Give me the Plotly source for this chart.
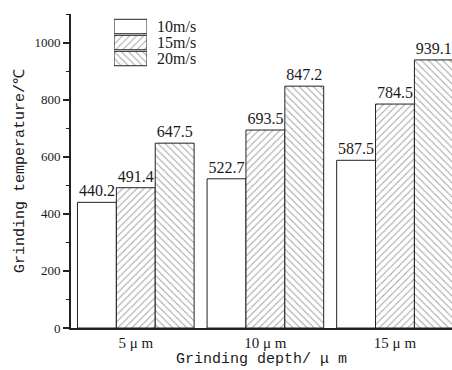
import plotly.graph_objects as go

# Grinding temperature for each wheel speed at three grinding depths
depths = ["5 μ m", "10 μ m", "15 μ m"]
speeds = ["10m/s", "15m/s", "20m/s"]
temp_10 = [440.2, 522.7, 587.5]
temp_15 = [491.4, 693.5, 784.5]
temp_20 = [647.5, 847.2, 939.1]

series = [temp_10, temp_15, temp_20]
patterns = ["", "/", "\\"]

SERIF = "Liberation Serif"
MONO = "Liberation Mono"
INK = "#1a1a1a"


def hatch(shape):
    return dict(color="white",
                line=dict(color="#222", width=1),
                pattern=dict(shape=shape, fgcolor="#444", bgcolor="white",
                             size=5, solidity=0.2))


fig = go.Figure()

for name, vals, shape in zip(speeds, series, patterns):
    fig.add_trace(go.Bar(
        x=depths, y=vals, name=name,
        text=[f"{v:.1f}" for v in vals], textposition="outside",
        textfont=dict(family=SERIF, size=16, color=INK),
        cliponaxis=False, marker=hatch(shape), showlegend=False,
    ))

# Legend drawn as a small inset of horizontal bars, each labelled at its right end
for name, shape in zip(speeds, patterns):
    fig.add_trace(go.Bar(
        x=[1], y=[name], orientation="h", xaxis="x2", yaxis="y2",
        marker=hatch(shape), showlegend=False, hoverinfo="skip",
    ))
    fig.add_annotation(x=1, y=name, xref="x2", yref="y2", text=name,
                       showarrow=False, xanchor="left", xshift=8,
                       font=dict(family=SERIF, size=16, color=INK))

fig.update_layout(
    width=452, height=370,
    margin=dict(l=71, r=0, t=14, b=42),
    paper_bgcolor="white", plot_bgcolor="white",
    barmode="group", bargap=0.1, bargroupgap=0,
    xaxis=dict(
        range=[-0.5, 2.44], showline=True, linecolor="#222", linewidth=1.5,
        ticks="", showgrid=False, zeroline=False,
        tickfont=dict(family=SERIF, size=15, color=INK),
        title=dict(text="Grinding depth/ μ m", standoff=2,
                   font=dict(family=MONO, size=15, color=INK)),
    ),
    yaxis=dict(
        range=[0, 1100], dtick=200, showline=True, linecolor="#222", linewidth=2,
        ticks="outside", ticklen=6, tickwidth=1.5, tickcolor="#222",
        minor=dict(dtick=100, ticks="outside", ticklen=3, tickcolor="#222", tickwidth=1),
        showgrid=False, zeroline=False,
        tickfont=dict(family=SERIF, size=13, color=INK),
        title=dict(text="Grinding temperature/℃", standoff=6,
                   font=dict(family=MONO, size=15, color=INK)),
    ),
    xaxis2=dict(domain=[0.113, 0.1995], range=[0, 1], anchor="y2",
                visible=False, fixedrange=True),
    yaxis2=dict(domain=[0.8247, 0.9936], anchor="x2",
                categoryorder="array", categoryarray=speeds[::-1],
                showline=False, ticks="", showgrid=False, zeroline=False,
                showticklabels=False, fixedrange=True),
)

fig.write_html("out.html")
